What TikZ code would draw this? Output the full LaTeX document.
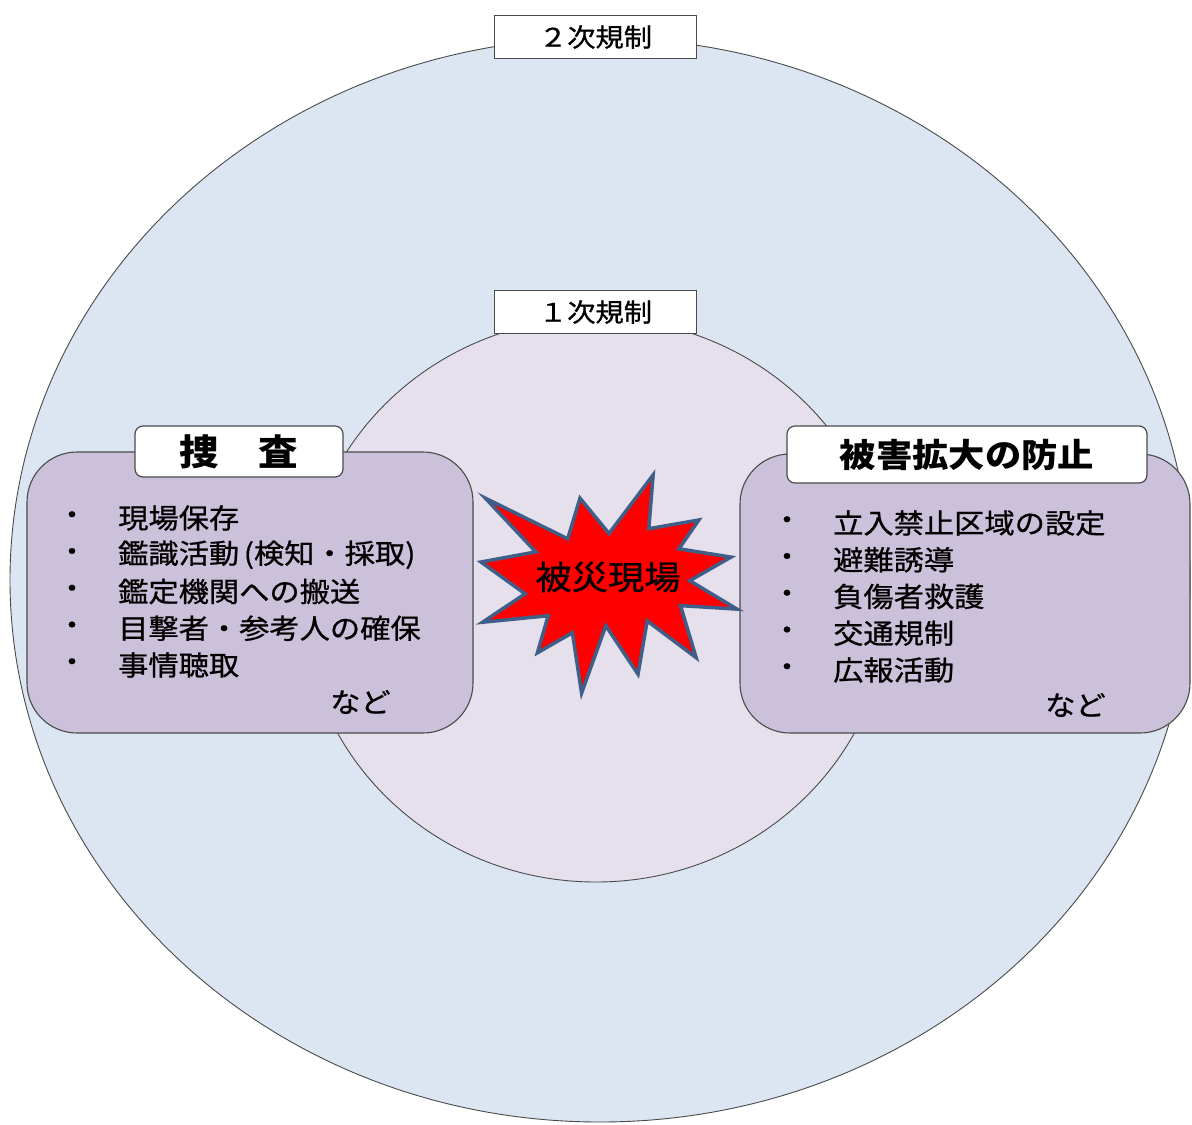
\documentclass[tikz,border=0pt]{standalone}
\usepackage{fontspec}
\setmainfont{Noto Sans CJK JP}[FakeStretch=1.1]
\newfontfamily\jpmed{Noto Sans CJK JP}[FakeStretch=1.1,FakeBold=0.8]
\definecolor{outerfill}{HTML}{DCE6F2}
\definecolor{innerfill}{HTML}{E5E0EC}
\definecolor{boxfill}{HTML}{CCC1DA}
\definecolor{edge}{HTML}{4A4A4A}
\definecolor{staredge}{HTML}{3F5E88}
\begin{document}
\begin{tikzpicture}[x=1pt,y=-1pt,
  zone/.style={draw=edge,line width=0.9pt},
  tag/.style={draw=edge,line width=1.2pt,fill=white,inner sep=0pt,minimum width=202pt,minimum height=43pt,font=\jpmed\fontsize{25.7}{30}\selectfont},
  mainbox/.style={draw=edge,line width=1.1pt,fill=boxfill,rounded corners=50pt,inner sep=0pt},
  headbox/.style={draw=edge,line width=1.2pt,fill=white,rounded corners=8pt,inner sep=0pt},
  headtext/.style={inner sep=0pt,font=\fontsize{33}{38}\bfseries\selectfont},
  item/.style={inner sep=0pt,anchor=west,font=\jpmed\fontsize{27.5}{32}\selectfont},
  dotmark/.style={inner sep=0pt,font=\jpmed\fontsize{27.5}{32}\selectfont}]
\useasboundingbox (0,0) rectangle (1192,1125);
% zones
\draw[zone,fill=outerfill] (600,580) ellipse [x radius=590pt,y radius=542pt];
\node[tag] (second) at (595.5,37) {２次規制};
\draw[zone,fill=innerfill] (596,600) ellipse [x radius=293pt,y radius=282pt];
\node[tag] (first) at (595.5,312) {１次規制};
% main boxes
\node[mainbox,minimum width=446pt,minimum height=281pt] (lbox) at (250,592.5) {};
\node[mainbox,minimum width=450pt,minimum height=279pt] (rbox) at (965,593.5) {};
\node[headbox,minimum width=208pt,minimum height=51pt] (lhead) at (239,451.5) {};
\node[headbox,minimum width=360pt,minimum height=57pt] (rhead) at (967,454.5) {};
\node[headtext,font=\fontsize{36}{40}\bfseries\selectfont] (lheadt) at (lhead.center) {捜　査};
\node[headtext] (rheadt) at (rhead.center) {被害拡大の防止};
% star
\draw[fill=red,draw=staredge,line width=3.5pt,line join=miter]
  (609.0,533.5) -- (653.1,475) -- (648.8,528.7) -- (698.8,520.0) -- (678.9,548.8)
  -- (731.0,557.1) -- (689.7,580.7) -- (737.0,609.1) -- (680.5,605.6) -- (696.1,657.6)
  -- (647.2,620.9) -- (638.0,674.2) -- (605.8,625.7) -- (581.6,693) -- (572.4,632.7)
  -- (537.4,652.8) -- (548.2,615.7) -- (482.6,622.2) -- (525.1,593.8) -- (481,562.0)
  -- (535.8,551.9) -- (485.4,498.2) -- (567.7,538.8) -- (580.0,498.2) -- cycle;
\node[inner sep=0pt,font=\jpmed\fontsize{33}{38}\selectfont] (site) at (608,577) {被災現場};
% left list
\foreach \i/\t [count=\n] in {0/現場保存,1/鑑識活動\,(検知・採取),2/鑑定機関への搬送,3/目撃者・参考人の確保,4/事情聴取}{
  \node[dotmark] (ld\n) at (72,{518+36.75*\i}) {・};
  \node[item] (li\n) at (118,{518+36.75*\i}) {\t};
}
\node[item] (letc) at (330,702) {など};
% right list
\foreach \i/\t [count=\n] in {0/立入禁止区域の設定,1/避難誘導,2/負傷者救護,3/交通規制,4/広報活動}{
  \node[dotmark] (rd\n) at (787,{523+36.75*\i}) {・};
  \node[item] (ri\n) at (833,{523+36.75*\i}) {\t};
}
\node[item] (retc) at (1045,705) {など};
\end{tikzpicture}
\end{document}
